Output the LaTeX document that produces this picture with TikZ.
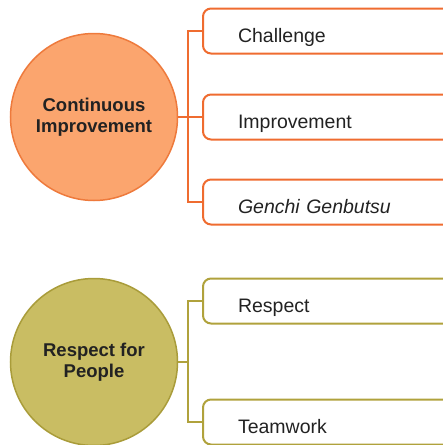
\documentclass[tikz,border=0pt]{standalone}
\usepackage{fontspec}
\setmainfont{Liberation Sans}
\usepackage{tikz}
\usetikzlibrary{positioning}

\definecolor{orfill}{HTML}{FBA56E}
\definecolor{orline}{HTML}{EE7A3C}
\definecolor{orbox}{HTML}{EF6C30}
\definecolor{olfill}{HTML}{C9BD63}
\definecolor{olline}{HTML}{A99C3A}
\definecolor{olbox}{HTML}{B0A23C}
\definecolor{txt}{HTML}{222222}

\begin{document}
\begin{tikzpicture}[x=1pt,y=-1pt,
		circle node/.style={circle,draw,line width=1.5pt,minimum size=167pt,inner sep=0pt,
			align=center,text=txt,font=\fontsize{18.5}{21}\selectfont\bfseries},
		box node/.style={rectangle,draw,rounded corners=8pt,line width=2pt,minimum height=45pt,
			text width=240pt,inner xsep=35pt,align=left,anchor=west,text=txt,
			text height=23pt,text depth=0pt,font=\fontsize{19.5}{22}\selectfont},
		link/.style={line width=1.5pt}]
		
		\useasboundingbox (0,0) rectangle (443,445);
		
		% upper group
		\node[circle node,fill=orfill,draw=orline] (ci) at (94,117) {Continuous\\Improvement};
		\node[box node,draw=orbox] (ch) at (202,31) {Challenge};
		\node[box node,draw=orbox] (im) at (202,117) {Improvement};
		\node[box node,draw=orbox] (gg) at (202,202) {\itshape Genchi Genbutsu};
		
		% lower group
		\node[circle node,fill=olfill,draw=olline] (rp) at (94,362) {Respect for\\People};
		\node[box node,draw=olbox] (re) at (202,301) {Respect};
		\node[box node,draw=olbox] (tw) at (202,422) {Teamwork};
		
		\coordinate (ci-j) at (188,117);
		\coordinate (rp-j) at (188,362);
		
		\draw[link,orbox] (ci.east) -- (im.west);
		\draw[link,orbox] (ch.west) -| (ci-j);
		\draw[link,orbox] (gg.west) -| (ci-j);
		
		\draw[link,olbox] (rp.east) -- (rp-j);
		\draw[link,olbox] (re.west) -| (rp-j);
		\draw[link,olbox] (tw.west) -| (rp-j);
		
\end{tikzpicture}
\end{document}
